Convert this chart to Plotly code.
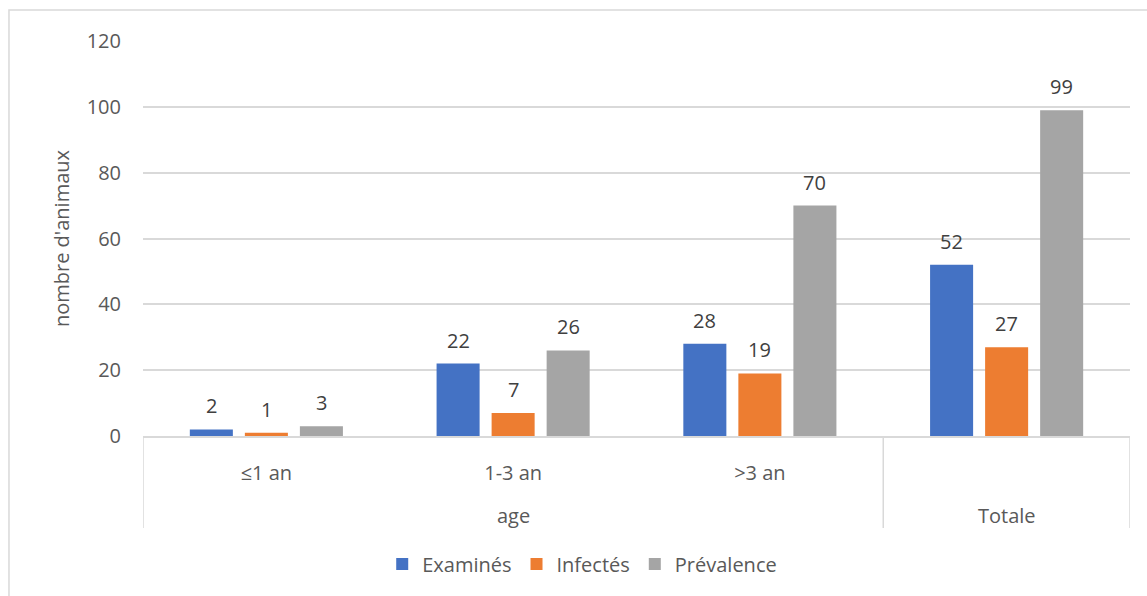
import plotly.graph_objects as go

# Age groups (inner level) and their outer grouping
categories = ["≤1 an", "1-3 an", ">3 an", "Totale"]
inner_labels = ["≤1 an", "1-3 an", ">3 an", ""]
series_names = ["Examinés", "Infectés", "Prévalence"]
examines = [2, 22, 28, 52]
infectes = [1, 7, 19, 27]
prevalence = [3, 26, 70, 99]
y_ticks = [0, 20, 40, 60, 80, 100, 120]

colors = ["#4472C4", "#ED7D31", "#A5A5A5"]
font_family = "Open Sans"
text_color = "#595959"
label_color = "#404040"
grid_color = "#D9D9D9"
fs = 20

fig = go.Figure()
all_series = [examines, infectes, prevalence]
for name, vals, col in zip(series_names, all_series, colors):
    fig.add_trace(go.Bar(x=categories, y=vals, name=name, marker_color=col,
                         marker_line_width=0))

# value labels above each bar
shifts = [-55, 0, 55]
annotations = []
for vals, dx in zip(all_series, shifts):
    for cat, v in zip(categories, vals):
        annotations.append(dict(x=cat, y=v, xref="x", yref="y", text=str(v),
                                showarrow=False, xshift=dx, yshift=8,
                                yanchor="bottom",
                                font=dict(size=fs, color=label_color, family=font_family)))

# outer level of the category axis
annotations.append(dict(x="1-3 an", y=-0.2, xref="x", yref="paper", text="age",
                        showarrow=False, yanchor="middle",
                        font=dict(size=fs, color=text_color, family=font_family)))
annotations.append(dict(x="Totale", y=-0.2, xref="x", yref="paper", text="Totale",
                        showarrow=False, yanchor="middle",
                        font=dict(size=fs, color=text_color, family=font_family)))

shapes = []
# dividers of the two-level category axis
for xv in [-0.5, 2.5, 3.5]:
    shapes.append(dict(type="line", xref="x", yref="paper", x0=xv, x1=xv,
                       y0=0, y1=-0.233, line=dict(color=grid_color, width=1.5)))
# chart border
shapes.append(dict(type="rect", xref="paper", yref="paper", x0=-0.1358, x1=1.05,
                   y0=-0.6, y1=1.0785, line=dict(color=grid_color, width=1.5),
                   fillcolor="rgba(0,0,0,0)", layer="below"))

fig.update_layout(
    width=1147, height=596,
    margin=dict(l=143, r=17, t=41, b=160),
    paper_bgcolor="white", plot_bgcolor="white",
    font=dict(family=font_family, size=fs, color=text_color),
    bargap=0.331, bargroupgap=0.218, barmode="group",
    showlegend=True,
    legend=dict(orientation="h", x=0.445, xanchor="center", y=-0.324, yanchor="middle",
                font=dict(size=fs, color=text_color), itemwidth=30,
                traceorder="normal"),
    annotations=annotations, shapes=shapes,
    xaxis=dict(type="category", range=[-0.5, 3.5], tickvals=categories, ticktext=inner_labels,
               showgrid=False, showline=True, linecolor=grid_color, linewidth=1.5,
               ticks="", ticklabelstandoff=18, zeroline=False,
               tickfont=dict(size=fs, color=text_color)),
    yaxis=dict(range=[0, 120], tickvals=y_ticks, showgrid=True, gridcolor=grid_color,
               gridwidth=1.5, zeroline=False, showline=False, ticks="",
               ticklabelstandoff=21,
               title=dict(text="nombre d'animaux", standoff=11,
                          font=dict(size=fs, color=text_color)),
               tickfont=dict(size=fs, color=text_color)),
)

fig.write_html("out.html")
